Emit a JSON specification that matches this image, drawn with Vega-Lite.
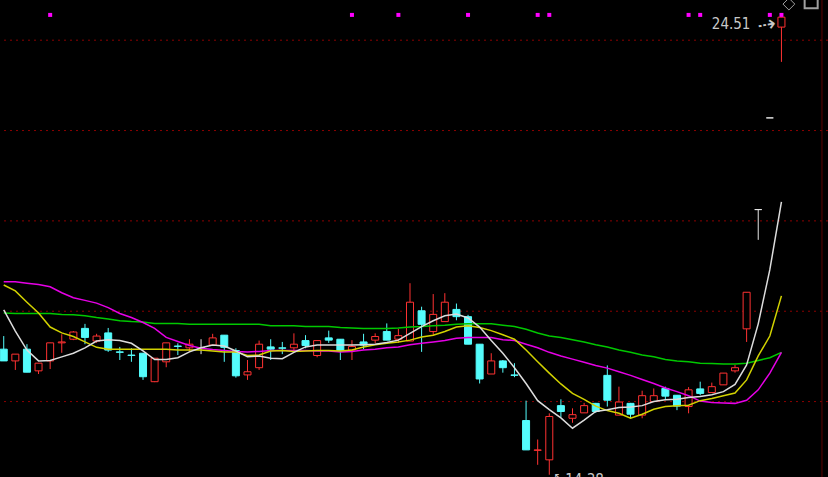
{
  "$schema": "https://vega.github.io/schema/vega-lite/v6.json",
  "width": 828,
  "height": 477,
  "autosize": {"type": "none"},
  "padding": 0,
  "background": "#000000",
  "config": {"view": {"stroke": null}},
  "datasets": {
    "k": [
      {"i":0,"o":17.16,"h":17.45,"l":16.90,"c":16.90},
      {"i":1,"o":16.90,"h":17.05,"l":16.70,"c":17.05},
      {"i":2,"o":17.16,"h":17.27,"l":16.65,"c":16.65},
      {"i":3,"o":16.68,"h":16.85,"l":16.61,"c":16.85},
      {"i":4,"o":16.90,"h":17.30,"l":16.72,"c":17.30},
      {"i":5,"o":17.30,"h":17.49,"l":17.08,"c":17.32},
      {"i":6,"o":17.38,"h":17.56,"l":17.36,"c":17.54},
      {"i":7,"o":17.62,"h":17.72,"l":17.27,"c":17.42},
      {"i":8,"o":17.34,"h":17.50,"l":17.30,"c":17.45},
      {"i":9,"o":17.52,"h":17.63,"l":17.10,"c":17.14},
      {"i":10,"o":17.10,"h":17.21,"l":16.92,"c":17.09},
      {"i":11,"o":17.03,"h":17.18,"l":16.88,"c":17.02},
      {"i":12,"o":17.07,"h":17.07,"l":16.48,"c":16.55},
      {"i":13,"o":16.44,"h":16.96,"l":16.43,"c":16.96},
      {"i":14,"o":16.88,"h":17.30,"l":16.76,"c":17.30},
      {"i":15,"o":17.23,"h":17.29,"l":17.03,"c":17.22},
      {"i":16,"o":17.19,"h":17.38,"l":17.10,"c":17.27},
      {"i":17,"o":17.19,"h":17.38,"l":17.05,"c":17.19},
      {"i":18,"o":17.25,"h":17.50,"l":17.25,"c":17.41},
      {"i":19,"o":17.47,"h":17.47,"l":16.88,"c":17.20},
      {"i":20,"o":17.13,"h":17.18,"l":16.53,"c":16.57},
      {"i":21,"o":16.59,"h":16.92,"l":16.48,"c":16.66},
      {"i":22,"o":16.75,"h":17.35,"l":16.70,"c":17.27},
      {"i":23,"o":17.21,"h":17.38,"l":16.92,"c":17.16},
      {"i":24,"o":17.19,"h":17.32,"l":17.05,"c":17.18},
      {"i":25,"o":17.19,"h":17.51,"l":17.10,"c":17.27},
      {"i":26,"o":17.35,"h":17.47,"l":17.18,"c":17.24},
      {"i":27,"o":17.02,"h":17.35,"l":16.98,"c":17.35},
      {"i":28,"o":17.41,"h":17.57,"l":17.30,"c":17.36},
      {"i":29,"o":17.38,"h":17.38,"l":16.92,"c":17.12},
      {"i":30,"o":17.14,"h":17.36,"l":16.92,"c":17.22},
      {"i":31,"o":17.32,"h":17.50,"l":17.16,"c":17.25},
      {"i":32,"o":17.36,"h":17.51,"l":17.29,"c":17.44},
      {"i":33,"o":17.55,"h":17.73,"l":17.36,"c":17.36},
      {"i":34,"o":17.38,"h":17.61,"l":17.30,"c":17.46},
      {"i":35,"o":17.34,"h":18.62,"l":17.34,"c":18.20},
      {"i":36,"o":18.01,"h":18.10,"l":17.10,"c":17.71},
      {"i":37,"o":17.55,"h":18.38,"l":17.47,"c":17.93},
      {"i":38,"o":17.77,"h":18.40,"l":17.77,"c":18.20},
      {"i":39,"o":18.04,"h":18.17,"l":17.80,"c":17.88},
      {"i":40,"o":17.88,"h":17.92,"l":17.27,"c":17.27},
      {"i":41,"o":17.27,"h":17.27,"l":16.40,"c":16.50},
      {"i":42,"o":16.61,"h":17.07,"l":16.61,"c":16.90},
      {"i":43,"o":16.90,"h":16.92,"l":16.64,"c":16.75},
      {"i":44,"o":16.59,"h":16.85,"l":16.54,"c":16.58},
      {"i":45,"o":15.58,"h":16.02,"l":14.93,"c":14.93},
      {"i":46,"o":14.92,"h":15.16,"l":14.60,"c":14.93},
      {"i":47,"o":14.71,"h":15.74,"l":14.38,"c":15.67},
      {"i":48,"o":15.91,"h":16.05,"l":15.65,"c":15.78},
      {"i":49,"o":15.63,"h":15.85,"l":15.53,"c":15.71},
      {"i":50,"o":15.75,"h":15.97,"l":15.75,"c":15.91},
      {"i":51,"o":15.96,"h":15.97,"l":15.75,"c":15.78},
      {"i":52,"o":16.58,"h":16.80,"l":15.89,"c":16.03},
      {"i":53,"o":15.70,"h":16.33,"l":15.70,"c":15.99},
      {"i":54,"o":15.96,"h":15.97,"l":15.63,"c":15.72},
      {"i":55,"o":15.70,"h":16.24,"l":15.63,"c":16.13},
      {"i":56,"o":16.00,"h":16.29,"l":16.00,"c":16.13},
      {"i":57,"o":16.29,"h":16.33,"l":16.03,"c":16.12},
      {"i":58,"o":16.14,"h":16.14,"l":15.81,"c":15.90},
      {"i":59,"o":15.89,"h":16.32,"l":15.74,"c":16.26},
      {"i":60,"o":16.28,"h":16.44,"l":16.14,"c":16.18},
      {"i":61,"o":16.20,"h":16.42,"l":16.20,"c":16.33},
      {"i":62,"o":16.37,"h":16.63,"l":16.37,"c":16.63},
      {"i":63,"o":16.68,"h":16.81,"l":16.64,"c":16.75},
      {"i":64,"o":17.61,"h":18.42,"l":17.32,"c":18.42},
      {"i":65,"o":20.25,"h":20.25,"l":19.58,"c":20.25},
      {"i":66,"o":22.28,"h":22.28,"l":22.28,"c":22.28},
      {"i":67,"o":24.29,"h":24.51,"l":23.52,"c":24.51}
    ],
    "ma": [
      {"i":0,"ma5":18.03,"ma10":18.58,"ma20":18.65,"ma60":17.96},
      {"i":1,"ma5":17.56,"ma10":18.45,"ma20":18.65,"ma60":17.95},
      {"i":2,"ma5":17.14,"ma10":18.20,"ma20":18.62,"ma60":17.95},
      {"i":3,"ma5":16.90,"ma10":17.96,"ma20":18.59,"ma60":17.95},
      {"i":4,"ma5":16.91,"ma10":17.65,"ma20":18.54,"ma60":17.95},
      {"i":5,"ma5":16.99,"ma10":17.52,"ma20":18.41,"ma60":17.93},
      {"i":6,"ma5":17.07,"ma10":17.44,"ma20":18.30,"ma60":17.92},
      {"i":7,"ma5":17.19,"ma10":17.32,"ma20":18.24,"ma60":17.90},
      {"i":8,"ma5":17.34,"ma10":17.20,"ma20":18.18,"ma60":17.86},
      {"i":9,"ma5":17.37,"ma10":17.16,"ma20":18.08,"ma60":17.83},
      {"i":10,"ma5":17.35,"ma10":17.16,"ma20":17.95,"ma60":17.79},
      {"i":11,"ma5":17.29,"ma10":17.16,"ma20":17.86,"ma60":17.77},
      {"i":12,"ma5":17.12,"ma10":17.16,"ma20":17.75,"ma60":17.76},
      {"i":13,"ma5":16.93,"ma10":17.16,"ma20":17.62,"ma60":17.73},
      {"i":14,"ma5":16.93,"ma10":17.16,"ma20":17.42,"ma60":17.73},
      {"i":15,"ma5":16.97,"ma10":17.14,"ma20":17.33,"ma60":17.73},
      {"i":16,"ma5":17.10,"ma10":17.14,"ma20":17.24,"ma60":17.71},
      {"i":17,"ma5":17.19,"ma10":17.14,"ma20":17.18,"ma60":17.71},
      {"i":18,"ma5":17.25,"ma10":17.12,"ma20":17.15,"ma60":17.71},
      {"i":19,"ma5":17.23,"ma10":17.10,"ma20":17.13,"ma60":17.71},
      {"i":20,"ma5":17.12,"ma10":17.10,"ma20":17.11,"ma60":17.71},
      {"i":21,"ma5":16.99,"ma10":17.02,"ma20":17.10,"ma60":17.71},
      {"i":22,"ma5":17.01,"ma10":17.03,"ma20":17.11,"ma60":17.71},
      {"i":23,"ma5":16.96,"ma10":17.12,"ma20":17.13,"ma60":17.68},
      {"i":24,"ma5":16.95,"ma10":17.13,"ma20":17.13,"ma60":17.68},
      {"i":25,"ma5":17.09,"ma10":17.11,"ma20":17.13,"ma60":17.68},
      {"i":26,"ma5":17.21,"ma10":17.12,"ma20":17.13,"ma60":17.66},
      {"i":27,"ma5":17.25,"ma10":17.13,"ma20":17.12,"ma60":17.66},
      {"i":28,"ma5":17.25,"ma10":17.13,"ma20":17.12,"ma60":17.66},
      {"i":29,"ma5":17.25,"ma10":17.12,"ma20":17.10,"ma60":17.64},
      {"i":30,"ma5":17.25,"ma10":17.14,"ma20":17.11,"ma60":17.63},
      {"i":31,"ma5":17.26,"ma10":17.21,"ma20":17.14,"ma60":17.62},
      {"i":32,"ma5":17.27,"ma10":17.26,"ma20":17.16,"ma60":17.62},
      {"i":33,"ma5":17.31,"ma10":17.29,"ma20":17.19,"ma60":17.62},
      {"i":34,"ma5":17.36,"ma10":17.32,"ma20":17.21,"ma60":17.63},
      {"i":35,"ma5":17.51,"ma10":17.36,"ma20":17.26,"ma60":17.65},
      {"i":36,"ma5":17.66,"ma10":17.43,"ma20":17.29,"ma60":17.66},
      {"i":37,"ma5":17.79,"ma10":17.47,"ma20":17.32,"ma60":17.68},
      {"i":38,"ma5":17.90,"ma10":17.55,"ma20":17.35,"ma60":17.69},
      {"i":39,"ma5":17.94,"ma10":17.65,"ma20":17.40,"ma60":17.71},
      {"i":40,"ma5":17.85,"ma10":17.68,"ma20":17.42,"ma60":17.72},
      {"i":41,"ma5":17.65,"ma10":17.64,"ma20":17.42,"ma60":17.72},
      {"i":42,"ma5":17.35,"ma10":17.57,"ma20":17.42,"ma60":17.72},
      {"i":43,"ma5":17.07,"ma10":17.48,"ma20":17.37,"ma60":17.69},
      {"i":44,"ma5":16.75,"ma10":17.38,"ma20":17.35,"ma60":17.66},
      {"i":45,"ma5":16.40,"ma10":17.14,"ma20":17.27,"ma60":17.60},
      {"i":46,"ma5":16.02,"ma10":16.88,"ma20":17.19,"ma60":17.52},
      {"i":47,"ma5":15.82,"ma10":16.63,"ma20":17.09,"ma60":17.45},
      {"i":48,"ma5":15.64,"ma10":16.39,"ma20":17.01,"ma60":17.42},
      {"i":49,"ma5":15.41,"ma10":16.18,"ma20":16.94,"ma60":17.37},
      {"i":50,"ma5":15.59,"ma10":16.05,"ma20":16.87,"ma60":17.32},
      {"i":51,"ma5":15.78,"ma10":15.90,"ma20":16.80,"ma60":17.26},
      {"i":52,"ma5":15.82,"ma10":15.80,"ma20":16.74,"ma60":17.21},
      {"i":53,"ma5":15.87,"ma10":15.74,"ma20":16.66,"ma60":17.14},
      {"i":54,"ma5":15.88,"ma10":15.63,"ma20":16.58,"ma60":17.09},
      {"i":55,"ma5":15.91,"ma10":15.72,"ma20":16.49,"ma60":17.03},
      {"i":56,"ma5":16.00,"ma10":15.83,"ma20":16.40,"ma60":16.99},
      {"i":57,"ma5":16.04,"ma10":15.89,"ma20":16.30,"ma60":16.93},
      {"i":58,"ma5":16.05,"ma10":15.91,"ma20":16.22,"ma60":16.90},
      {"i":59,"ma5":16.09,"ma10":15.92,"ma20":16.13,"ma60":16.88},
      {"i":60,"ma5":16.11,"ma10":16.02,"ma20":16.01,"ma60":16.85},
      {"i":61,"ma5":16.15,"ma10":16.07,"ma20":15.98,"ma60":16.84},
      {"i":62,"ma5":16.22,"ma10":16.13,"ma20":15.97,"ma60":16.83},
      {"i":63,"ma5":16.38,"ma10":16.19,"ma20":15.96,"ma60":16.83},
      {"i":64,"ma5":16.81,"ma10":16.48,"ma20":16.03,"ma60":16.85},
      {"i":65,"ma5":17.72,"ma10":17.01,"ma20":16.26,"ma60":16.91},
      {"i":66,"ma5":18.92,"ma10":17.45,"ma20":16.63,"ma60":16.97},
      {"i":67,"ma5":20.42,"ma10":18.34,"ma20":17.09,"ma60":17.09}
    ],
    "grid": [{"p":16},{"p":18},{"p":20},{"p":22},{"p":24}],
    "sig": [{"i":4},{"i":30},{"i":34},{"i":40},{"i":46},{"i":47},{"i":59},{"i":60},{"i":66},{"i":67}],
    "hi": [{"i":67,"p":24.51,"label":"24.51"}],
    "lo": [{"i":47,"p":14.38,"label":"14.38"}]
  },
  "encoding": {
    "x": {"type": "quantitative", "scale": {"domain": [0.11, 70.58], "nice": false, "zero": false}, "axis": null},
    "y": {"type": "quantitative", "scale": {"domain": [14.33, 24.89], "nice": false, "zero": false}, "axis": null}
  },
  "layer": [
    {
      "data": {"name": "grid"},
      "mark": {"type": "rule", "color": "#8C0000", "strokeWidth": 1, "strokeDash": [2, 4]},
      "encoding": {"y": {"field": "p", "type": "quantitative"}}
    },
    {
      "data": {"name": "hi"},
      "mark": {"type": "rule", "color": "#5A0000", "strokeWidth": 1},
      "encoding": {"x": {"datum": 70.49}}
    },
    {
      "data": {"name": "k"},
      "mark": {"type": "rule", "strokeWidth": 1, "clip": true},
      "encoding": {
        "x": {"field": "i", "type": "quantitative"},
        "y": {"field": "l", "type": "quantitative"},
        "y2": {"field": "h"},
        "color": {"condition": [{"test": "datum.c > datum.o", "value": "#FF3232"}, {"test": "datum.c < datum.o", "value": "#54FCFC"}], "value": "#E6E6E6"}
      }
    },
    {
      "data": {"name": "k"},
      "mark": {"type": "bar", "width": 7, "strokeWidth": 1, "clip": true},
      "encoding": {
        "x": {"field": "i", "type": "quantitative"},
        "y": {"field": "o", "type": "quantitative"},
        "y2": {"field": "c"},
        "fill": {"condition": [{"test": "datum.c > datum.o", "value": "#000000"}, {"test": "datum.c < datum.o", "value": "#54FCFC"}], "value": "#E6E6E6"},
        "stroke": {"condition": [{"test": "datum.c > datum.o", "value": "#FF3232"}, {"test": "datum.c < datum.o", "value": "#54FCFC"}], "value": "#E6E6E6"}
      }
    },
    {
      "data": {"name": "ma"},
      "mark": {"type": "line", "color": "#00C800", "strokeWidth": 1.5, "clip": true},
      "encoding": {"x": {"field": "i", "type": "quantitative"}, "y": {"field": "ma60", "type": "quantitative"}}
    },
    {
      "data": {"name": "ma"},
      "mark": {"type": "line", "color": "#E600E6", "strokeWidth": 1.5, "clip": true},
      "encoding": {"x": {"field": "i", "type": "quantitative"}, "y": {"field": "ma20", "type": "quantitative"}}
    },
    {
      "data": {"name": "ma"},
      "mark": {"type": "line", "color": "#D2D200", "strokeWidth": 1.5, "clip": true},
      "encoding": {"x": {"field": "i", "type": "quantitative"}, "y": {"field": "ma10", "type": "quantitative"}}
    },
    {
      "data": {"name": "ma"},
      "mark": {"type": "line", "color": "#DCDCDC", "strokeWidth": 1.5, "clip": true},
      "encoding": {"x": {"field": "i", "type": "quantitative"}, "y": {"field": "ma5", "type": "quantitative"}}
    },
    {
      "data": {"name": "sig"},
      "mark": {"type": "square", "filled": true, "color": "#FF00FF", "size": 16, "opacity": 1},
      "encoding": {"x": {"field": "i", "type": "quantitative"}, "y": {"datum": 24.56}}
    },
    {
      "data": {"name": "hi"},
      "mark": {"type": "point", "shape": "diamond", "filled": false, "stroke": "#A0A0A0", "strokeWidth": 1, "size": 140, "opacity": 1},
      "encoding": {"x": {"datum": 67.64}, "y": {"datum": 24.80}}
    },
    {
      "data": {"name": "hi"},
      "mark": {"type": "point", "shape": "square", "filled": false, "stroke": "#A0A0A0", "strokeWidth": 2, "size": 170, "opacity": 1},
      "encoding": {"x": {"datum": 69.56}, "y": {"datum": 24.85}}
    },
    {
      "data": {"name": "hi"},
      "mark": {"type": "text", "align": "right", "baseline": "middle", "dx": -31, "dy": 7, "fontSize": 15, "font": "Liberation Sans Narrow, DejaVu Sans Condensed, Liberation Sans", "color": "#C8C8C8"},
      "encoding": {"x": {"field": "i", "type": "quantitative"}, "y": {"field": "p", "type": "quantitative"}, "text": {"field": "label"}}
    },
    {
      "data": {"name": "hi"},
      "mark": {"type": "text", "align": "center", "baseline": "middle", "dx": -16, "dy": 5, "angle": 350, "fontSize": 22, "font": "DejaVu Sans", "color": "#C8C8C8", "text": "⇢"},
      "encoding": {"x": {"field": "i", "type": "quantitative"}, "y": {"field": "p", "type": "quantitative"}}
    },
    {
      "data": {"name": "lo"},
      "mark": {"type": "text", "align": "left", "baseline": "top", "dx": 16, "dy": -2, "fontSize": 15, "font": "Liberation Sans Narrow, DejaVu Sans Condensed, Liberation Sans", "color": "#C8C8C8"},
      "encoding": {"x": {"field": "i", "type": "quantitative"}, "y": {"field": "p", "type": "quantitative"}, "text": {"field": "label"}}
    },
    {
      "data": {"name": "lo"},
      "mark": {"type": "text", "align": "center", "baseline": "top", "dx": 9, "dy": -3, "fontSize": 12, "font": "DejaVu Sans", "color": "#C8C8C8", "text": "↖"},
      "encoding": {"x": {"field": "i", "type": "quantitative"}, "y": {"field": "p", "type": "quantitative"}}
    }
  ]
}
